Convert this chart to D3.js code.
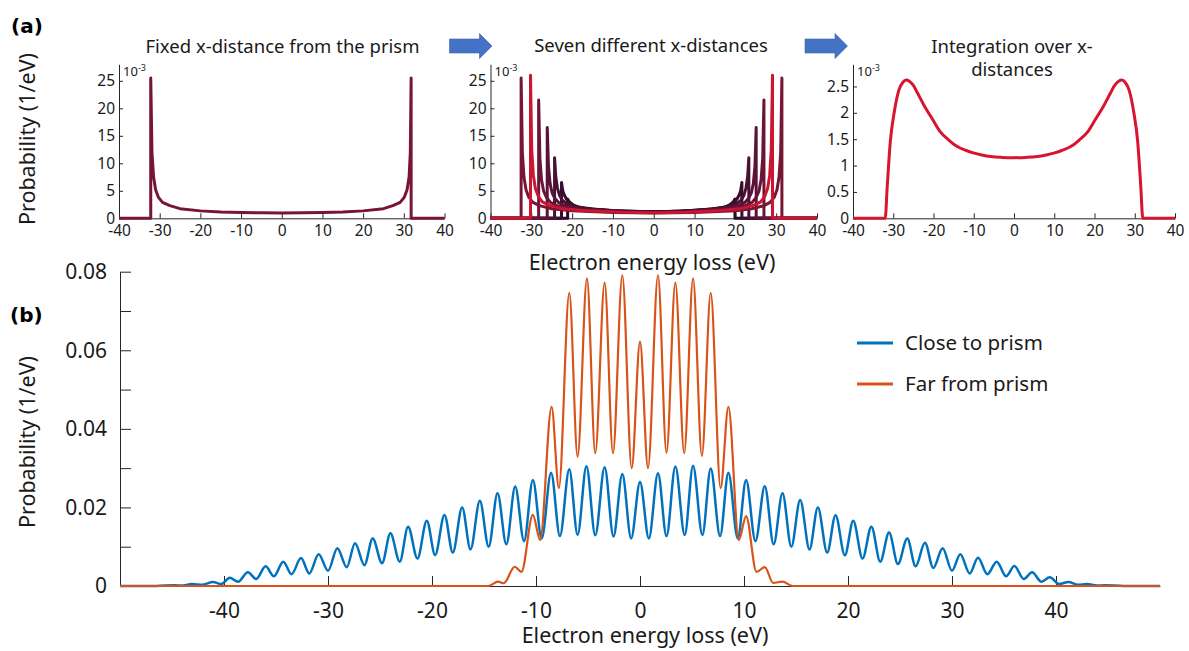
<!DOCTYPE html>
<html>
<head>
<meta charset="utf-8">
<script src="https://cdn.jsdelivr.net/npm/d3@7"></script>
<style>
  body { margin: 0; background: #fff; }
  svg { display: block; font-family: "Noto Sans", sans-serif; }
</style>
</head>
<body>
<div id="chart"></div>
<script>
// ---- panel (a) data, probability in units of 1e-3 /eV ----
const topTicks = [-40, -30, -20, -10, 0, 10, 20, 30, 40];
const spikeTicks = [0, 5, 10, 15, 20, 25];
const integTicks = [0, 0.5, 1, 1.5, 2, 2.5];

const fixedE = [-40, -32.2, -32.2, -31.9, -31.5, -31, -30.3, -29.3, -27.5, -25, -20, -15, -10, -5, 0, 5, 10, 15, 20, 25, 27.3, 29.1, 30.1, 30.8, 31.3, 31.6, 31.8, 31.8, 40];
const fixedP = [0, 0, 25.5, 12, 7.5, 5.2, 3.8, 2.9, 2.3, 1.75, 1.35, 1.15, 1.05, 1.0, 0.98, 1.0, 1.05, 1.15, 1.35, 1.75, 2.3, 2.9, 3.8, 5.2, 7.5, 12, 25.5, 0, 0];

// seven x-distances, each as [E, P] points
const distA = [[-40,0],[-32.5,0],[-32.5,25.5],[-32.2,12],[-31.8,7.5],[-31.3,5.2],[-30.6,3.8],[-29.6,2.9],[-28,2.3],[-25,1.75],[-20,1.35],[-10,1.05],[0,0.98],[10,1.05],[20,1.35],[24,1.75],[27,2.3],[28.5,2.9],[29.5,3.8],[30.2,5.2],[30.7,7.5],[31.1,12],[31.4,25.5],[31.4,0],[40,0]];
const distB = [[-40,0],[-30.2,0],[-30.2,26],[-29.9,12.5],[-29.5,7.8],[-29,5.4],[-28.3,4],[-27.3,3],[-25.7,2.4],[-22.7,1.8],[-17.7,1.4],[-8,1.1],[0,1.02],[8,1.1],[16.6,1.4],[21.6,1.8],[24.6,2.4],[26.2,3],[27.2,4],[27.9,5.4],[28.4,7.8],[28.8,12.5],[29.1,26],[29.1,0],[40,0]];
const distC = [[-40,0],[-28.2,0],[-28.2,21.5],[-27.9,11],[-27.5,7],[-27,5],[-26.3,3.8],[-25.3,2.9],[-23.7,2.3],[-20.7,1.8],[-15.7,1.4],[-7,1.12],[0,1.06],[7,1.12],[14.5,1.4],[19.5,1.8],[22.5,2.3],[24.1,2.9],[25.1,3.8],[25.8,5],[26.3,7],[26.7,11],[27,21.5],[27,0],[40,0]];
const distD = [[-40,0],[-26.1,0],[-26.1,16.5],[-25.8,9.5],[-25.4,6.3],[-24.9,4.6],[-24.2,3.6],[-23.2,2.8],[-21.6,2.3],[-18.6,1.8],[-13.6,1.45],[-6,1.15],[0,1.1],[6,1.15],[12.6,1.45],[17.6,1.8],[20.6,2.3],[22.2,2.8],[23.2,3.6],[23.9,4.6],[24.4,6.3],[24.8,9.5],[25.1,16.5],[25.1,0],[40,0]];
const distE = [[-40,0],[-24.3,0],[-24.3,11],[-24,7.5],[-23.6,5.5],[-23.1,4.2],[-22.4,3.3],[-21.4,2.7],[-19.8,2.2],[-16.8,1.8],[-11.8,1.45],[-5,1.2],[0,1.15],[5,1.2],[10.8,1.45],[15.8,1.8],[18.8,2.2],[20.4,2.7],[21.4,3.3],[22.1,4.2],[22.6,5.5],[23,7.5],[23.3,11],[23.3,0],[40,0]];
const distF = [[-40,0],[-22.6,0],[-22.6,6.5],[-22.3,5],[-21.9,4.2],[-21.4,3.5],[-20.7,2.9],[-19.7,2.4],[-18.1,2],[-15.1,1.7],[-10.1,1.4],[-4,1.22],[0,1.2],[4,1.22],[9.1,1.4],[14.1,1.7],[17.1,2],[18.7,2.4],[19.7,2.9],[20.4,3.5],[20.9,4.2],[21.3,5],[21.6,6.5],[21.6,0],[40,0]];
const distG = [[-40,0],[-21.1,0],[-21.1,3.5],[-20.8,3.1],[-20.4,2.8],[-19.9,2.5],[-19.2,2.2],[-18.2,1.95],[-16.6,1.75],[-13.6,1.55],[-8.6,1.35],[-3,1.25],[0,1.22],[3,1.25],[7.4,1.35],[12.4,1.55],[15.4,1.75],[17,1.95],[18,2.2],[18.7,2.5],[19.2,2.8],[19.6,3.1],[19.9,3.5],[19.9,0],[40,0]];
const sevenDists = [distG, distF, distE, distD, distC, distA, distB];
const sevenColors = ["#2a0a27", "#380d2d", "#481032", "#5a1236", "#6b1437", "#781533", "#cc1530"];

const integE = [-40, -32, -31.5, -30.7, -29.8, -28.6, -27.6, -26.8, -26, -25, -24, -22.4, -20.1, -18.3, -16, -14.1, -12, -10.1, -8, -5.8, -3, 0, 3, 5.8, 8, 10.1, 12, 14.1, 16, 18.3, 20.1, 22.4, 24, 25, 26, 26.8, 27.6, 28.6, 29.8, 30.7, 31.5, 32, 40];
const integP = [0, 0, 0.6, 1.48, 1.99, 2.43, 2.58, 2.62, 2.6, 2.52, 2.38, 2.15, 1.86, 1.64, 1.47, 1.36, 1.29, 1.24, 1.2, 1.17, 1.155, 1.15, 1.155, 1.17, 1.2, 1.24, 1.29, 1.36, 1.47, 1.64, 1.86, 2.15, 2.38, 2.52, 2.6, 2.62, 2.58, 2.43, 1.99, 1.48, 0.6, 0, 0];

// ---- panel (b) data, extrema of the two spectra ----
const lossTicks = [-40, -30, -20, -10, 0, 10, 20, 30, 40];
const probTicks = [0, 0.01, 0.02, 0.03, 0.04, 0.05, 0.06, 0.07, 0.08];
const probLabels = ["0", "", "0.02", "", "0.04", "", "0.06", "", "0.08"];
const seriesNames = ["Close to prism", "Far from prism"];

const closeE = [-50,-46.5,-44.8,-43.9,-43.1,-42.1,-41.05,-40.25,-39.45,-38.65,-37.7,-36.9,-36.0,-35.2,-34.3,-33.5,-32.6,-31.8,-30.9,-30.0,-29.1,-28.2,-27.4,-26.5,-25.7,-24.8,-24.0,-23.1,-22.3,-21.4,-20.5,-19.7,-18.8,-18.0,-17.1,-16.3,-15.4,-14.55,-13.7,-12.85,-12.0,-11.15,-10.3,-9.45,-8.55,-7.7,-6.8,-6.0,-5.15,-4.3,-3.4,-2.55,-1.7,-0.85,0,0.85,1.73,2.55,3.4,4.3,5.1,6.0,6.8,7.7,8.5,9.4,10.2,11.1,12.0,12.85,13.7,14.55,15.4,16.3,17.1,18.0,18.8,19.7,20.5,21.4,22.25,23.1,23.95,24.8,25.7,26.5,27.4,28.2,29.1,30.0,30.8,31.7,32.5,33.4,34.3,35.2,36.0,36.9,37.7,38.6,39.4,40.3,41.2,42.1,43.0,43.9,44.7,46.5,50];
const closeP = [0,0,0.0002,0.0001,0.0005,0.0003,0.001,0.0005,0.0021,0.0011,0.0035,0.0018,0.005,0.0025,0.0062,0.003,0.0071,0.0032,0.0081,0.0039,0.0096,0.0048,0.0109,0.0053,0.0121,0.0058,0.0134,0.0062,0.0151,0.007,0.0166,0.0079,0.0181,0.0085,0.02,0.0093,0.0217,0.01,0.0236,0.0106,0.0253,0.0114,0.027,0.0121,0.0288,0.0127,0.0297,0.013,0.0305,0.0129,0.0302,0.0126,0.0285,0.0121,0.0265,0.0121,0.0287,0.0127,0.0304,0.013,0.0306,0.013,0.0299,0.0127,0.0288,0.0121,0.027,0.0114,0.0254,0.0106,0.0236,0.01,0.0219,0.0093,0.02,0.0085,0.018,0.0078,0.0166,0.007,0.0151,0.0062,0.0136,0.0056,0.0121,0.005,0.011,0.0046,0.0096,0.0039,0.0081,0.0032,0.0072,0.003,0.0062,0.0025,0.0051,0.0018,0.0035,0.0011,0.0022,0.0005,0.001,0.0003,0.0005,0.0001,0.0002,0,0];

const farE = [-50,-14.6,-13.65,-13.1,-12.05,-11.4,-10.3,-9.6,-8.5,-7.8,-6.8,-6.0,-5.1,-4.3,-3.4,-2.6,-1.7,-0.8,0,0.77,1.73,2.55,3.4,4.25,5.1,5.95,6.8,7.75,8.5,9.5,10.2,11.2,12.0,12.8,13.7,14.7,50];
const farP = [0,0,0.0011,0.0007,0.0049,0.0036,0.0181,0.0117,0.0456,0.0249,0.0746,0.0329,0.0783,0.0338,0.0772,0.0338,0.0791,0.03,0.0622,0.03,0.0791,0.0339,0.0772,0.0338,0.0783,0.0331,0.0746,0.0249,0.0456,0.0117,0.0178,0.0036,0.0048,0.0008,0.0011,0,0];

const WIDTH = 1189, HEIGHT = 651;
const ink = "#1a1a1a";
const zip = (a, b) => a.map((v, i) => [v, b[i]]);

let svg = d3.select("#chart").append("svg")
    .attr("width", WIDTH)
    .attr("height", HEIGHT);

function styleAxis(g, size) {
    g.select(".domain").attr("stroke", "#262626");
    g.selectAll(".tick line").attr("stroke", "#262626");
    g.selectAll(".tick text").attr("fill", ink)
        .style("font-family", "'Noto Sans', sans-serif")
        .style("font-size", size + "px");
}

// small panel of row (a)
function smallPanel(x0, x1, yMax, yTicks) {
    const x = d3.scaleLinear().domain([-40, 40]).range([x0, x1]);
    const y = d3.scaleLinear().domain([0, yMax]).range([218.3, 64.3]);

    svg.append("g")
        .attr("transform", "translate(0,218.3)")
        .call(d3.axisBottom(x).tickValues(topTicks).tickSizeInner(-5).tickSizeOuter(0)
            .tickPadding(7).tickFormat(d => String(d)))
        .call(g => styleAxis(g, 15.5));

    svg.append("g")
        .attr("transform", `translate(${x0},0)`)
        .call(d3.axisLeft(y).tickValues(yTicks).tickSizeInner(-4).tickSizeOuter(0)
            .tickPadding(4).tickFormat(d => String(d)))
        .call(g => styleAxis(g, 15.5));

    let t = svg.append("text")
        .attr("x", x0 + 4).attr("y", 76)
        .attr("fill", ink).style("font-size", "13px")
        .text("10");
    t.append("tspan").attr("dy", -5).style("font-size", "9px").text("-3");

    return { x, y };
}

function drawCurve(p, pts, color, curve) {
    svg.append("path")
        .datum(pts)
        .attr("fill", "none")
        .attr("stroke", color)
        .attr("stroke-width", 3)
        .attr("stroke-linejoin", "round")
        .attr("d", d3.line().x(d => p.x(d[0])).y(d => p.y(d[1])).curve(curve));
}

// panel 1
let p1 = smallPanel(119, 444.5, 28, spikeTicks);
drawCurve(p1, zip(fixedE, fixedP), "#781533", d3.curveLinear);

// panel 2
let p2 = smallPanel(490.5, 817, 28, spikeTicks);
sevenDists.forEach((d, i) => drawCurve(p2, d, sevenColors[i], d3.curveLinear));

// panel 3
let p3 = smallPanel(853, 1175, 2.92, integTicks);
drawCurve(p3, zip(integE, integP), "#d7152f", d3.curveMonotoneX);

// titles of row (a)
const titleStyle = sel => sel.attr("fill", ink).attr("text-anchor", "middle").style("font-size", "18.5px");
svg.append("text").attr("x", 282.5).attr("y", 53).call(titleStyle).text("Fixed x-distance from the prism");
svg.append("text").attr("x", 651).attr("y", 52).call(titleStyle).text("Seven different x-distances");
svg.append("text").attr("x", 1012).attr("y", 53).call(titleStyle).text("Integration over x-");
svg.append("text").attr("x", 1012).attr("y", 76).call(titleStyle).text("distances");

// block arrows between the panels
function arrow(x, y) {
    svg.append("path")
        .attr("d", `M${x},${y - 7} h30 v-5.5 l12.5,12.5 l-12.5,12.5 v-5.5 h-30 Z`)
        .attr("fill", "#4472c4")
        .attr("stroke", "#3a62ad")
        .attr("stroke-width", 0.6);
}
arrow(449.5, 46);
arrow(805, 46);

// shared labels of row (a)
svg.append("text")
    .attr("transform", "translate(35,139) rotate(-90)")
    .attr("text-anchor", "middle").attr("fill", ink).style("font-size", "21.5px")
    .text("Probability (1/eV)");
svg.append("text")
    .attr("x", 652).attr("y", 270)
    .attr("text-anchor", "middle").attr("fill", ink).style("font-size", "21.5px")
    .text("Electron energy loss (eV)");

// ---- panel (b) ----
const xB = d3.scaleLinear().domain([-50, 50]).range([120, 1160]);
const yB = d3.scaleLinear().domain([0, 0.08]).range([586, 271.7]);

svg.append("g")
    .attr("transform", "translate(0,586)")
    .call(d3.axisBottom(xB).tickValues(lossTicks).tickSizeInner(-10).tickSizeOuter(0)
        .tickPadding(17).tickFormat(d => String(d)))
    .call(g => styleAxis(g, 21));

svg.append("g")
    .attr("transform", "translate(120,0)")
    .call(d3.axisLeft(yB).tickValues(probTicks).tickSizeInner(-11).tickSizeOuter(0)
        .tickPadding(13).tickFormat((d, i) => probLabels[i]))
    .call(g => styleAxis(g, 21));

const lineB = d3.line().x(d => xB(d[0])).y(d => yB(d[1])).curve(d3.curveMonotoneX);
const colorsB = ["#0072bd", "#d95319"];

svg.append("path")
    .datum(zip(closeE, closeP))
    .attr("fill", "none").attr("stroke", colorsB[0]).attr("stroke-width", 2.5)
    .attr("d", lineB);
svg.append("path")
    .datum(zip(farE, farP))
    .attr("fill", "none").attr("stroke", colorsB[1]).attr("stroke-width", 2.2)
    .attr("d", lineB);

svg.append("text")
    .attr("transform", "translate(35,442) rotate(-90)")
    .attr("text-anchor", "middle").attr("fill", ink).style("font-size", "21.5px")
    .text("Probability (1/eV)");
svg.append("text")
    .attr("x", 645).attr("y", 643)
    .attr("text-anchor", "middle").attr("fill", ink).style("font-size", "21.5px")
    .text("Electron energy loss (eV)");

// legend
let legend = svg.append("g").selectAll("g")
    .data(seriesNames)
    .enter()
    .append("g")
    .attr("transform", (d, i) => `translate(857,${343 + i * 41})`);
legend.append("line")
    .attr("x1", 0).attr("x2", 36)
    .attr("stroke", (d, i) => colorsB[i]).attr("stroke-width", 3);
legend.append("text")
    .attr("x", 48).attr("y", 7)
    .attr("fill", ink).style("font-size", "20.5px")
    .text(d => d);

// panel letters
svg.append("text").attr("x", 11).attr("y", 33)
    .style("font-family", "'DejaVu Sans', sans-serif").style("font-weight", "bold").style("font-size", "20px")
    .attr("fill", "#000").text("(a)");
svg.append("text").attr("x", 10).attr("y", 322)
    .style("font-family", "'DejaVu Sans', sans-serif").style("font-weight", "bold").style("font-size", "20px")
    .attr("fill", "#000").text("(b)");
</script>
</body>
</html>
